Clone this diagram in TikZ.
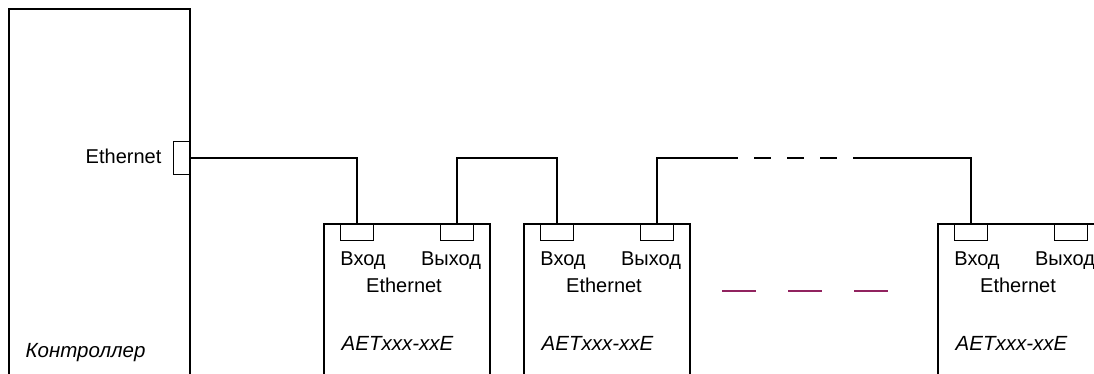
\documentclass[tikz,border=0pt]{standalone}
\usepackage{fontspec}
\setmainfont{Liberation Sans}
\usetikzlibrary{calc}
\definecolor{markpurple}{RGB}{145,35,95}

\begin{document}
\begin{tikzpicture}[x=1pt, y=-1pt, line width=1.3pt,
    port/.style={draw, rectangle, inner sep=0pt, minimum width=33pt, minimum height=16pt},
    lbl/.style={font=\fontsize{20}{24}\selectfont, inner sep=0pt, anchor=base},
    devname/.style={font=\fontsize{20.5}{24}\selectfont\itshape, inner sep=0pt, anchor=base west}]

    % --- FRAME ---
    \useasboundingbox (0,0) rectangle (1094,373);
    \clip (0,0) rectangle (1094,373);

    % --- CONTROLLER (LEFT) ---
    \draw (9,380) -- (9,9) -- (190,9) -- (190,380);
    \node[port, minimum width=16pt, minimum height=33pt, anchor=east] (eth) at (190,158) {};
    \node[lbl, anchor=base east] (ethlbl) at (162,163) {Ethernet};
    \node[devname] (ctrl) at (25,357) {Контроллер};

    % --- MODULES ---
    \foreach \i/\x in {1/324, 2/524, 3/938} {
        \draw (\x,380) -- (\x,224) -- ({\x+166},224) -- ({\x+166},380);
        \node[port, anchor=north] (in\i) at ({\x+33},224) {};
        \node[port, anchor=north] (out\i) at ({\x+133},224) {};
        \node[lbl] (inlbl\i) at ({\x+39},265) {Вход};
        \node[lbl] (outlbl\i) at ({\x+127},265) {Выход};
        \node[lbl] (ethlbl\i) at ({\x+80},292) {Ethernet};
        \node[devname] (dev\i) at ({\x+17},350) {AETxxx-xxE};
    }

    % --- WIRES ---
    \coordinate (gapL) at (738,158);
    \coordinate (gapR) at (855,158);
    \draw (eth.east) -| (in1.north);
    \draw (out1.north) -- (out1.north |- eth.east) -| (in2.north);
    \draw (out2.north) |- (gapL);
    \draw[dash pattern=on 17pt off 16pt, dash phase=17pt] (gapL) -- (gapR);
    \draw (gapR) -| (in3.north);

    % --- CONTINUATION MARK ---
    \coordinate (markL) at (722,291);
    \coordinate (markR) at (889,291);
    \draw[markpurple, line width=1.8pt, dash pattern=on 34pt off 32pt] (markL) -- (markR);

\end{tikzpicture}
\end{document}
